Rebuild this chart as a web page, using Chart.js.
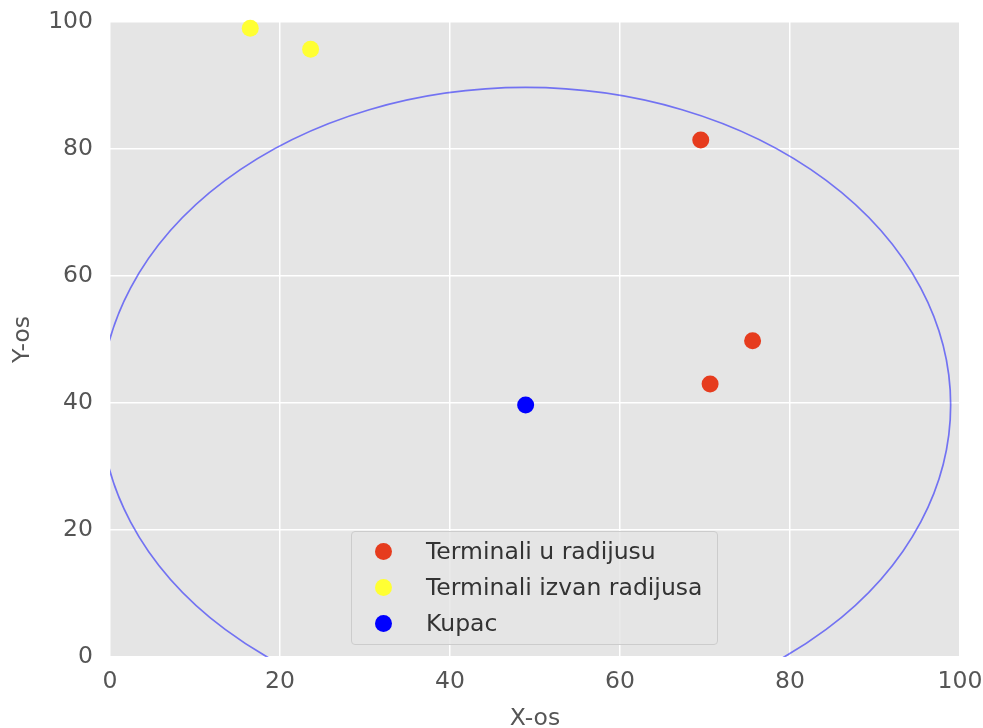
<!DOCTYPE html>
<html>
<head>
<meta charset="utf-8">
<script src="https://cdn.jsdelivr.net/npm/chart.js@4"></script>
<style>
  html, body { margin: 0; padding: 0; background: #fff; overflow: hidden; }
  #wrap { position: relative; width: 983px; height: 728px; }
  #legend {
    position: absolute; left: 351px; top: 531px; width: 365px; height: 112px;
    background: rgba(229,229,229,0.8); border: 1px solid #cccccc; border-radius: 4px;
    font-family: "DejaVu Sans", sans-serif; font-size: 23.5px; color: #333;
  }
  #legend .row { position: absolute; left: 0; height: 36px; line-height: 36px; white-space: nowrap; }
  #legend .dot { position: absolute; left: 23px; top: 10px; width: 17px; height: 17px; border-radius: 50%; }
  #legend .txt { position: absolute; left: 74px; }
</style>
</head>
<body>
<div id="wrap">
  <canvas id="chart" width="983" height="728"></canvas>
  <div id="legend"></div>
</div>
<script>
// podaci
const terminaliUX = [69.5, 75.6, 70.6];
const terminaliUY = [81.4, 49.8, 43.0];
const izvanX = [16.5, 23.6];
const izvanY = [99.0, 95.7];
const kupacX = [48.9];
const kupacY = [39.7];
const radijus = 50;
const tickVals = [0, 20, 40, 60, 80, 100];

function toPoints(xs, ys) {
    return xs.map(function(x, i) { return {x: x, y: ys[i]}; });
}

// pozadina grafa (ggplot stil)
const bgPlugin = {
    id: 'bg',
    beforeDraw: function(chart) {
        const a = chart.chartArea;
        const ctx = chart.ctx;
        ctx.save();
        ctx.fillStyle = '#e5e5e5';
        ctx.fillRect(a.left, a.top, a.right - a.left, a.bottom - a.top);
        ctx.restore();
    }
};

// krug oko kupca
const krugPlugin = {
    id: 'krug',
    beforeDatasetsDraw: function(chart) {
        const a = chart.chartArea;
        const xs = chart.scales.x, ys = chart.scales.y;
        const cx = xs.getPixelForValue(kupacX[0]);
        const cy = ys.getPixelForValue(kupacY[0]);
        const rx = Math.abs(xs.getPixelForValue(kupacX[0] + radijus) - cx);
        const ry = Math.abs(ys.getPixelForValue(kupacY[0] + radijus) - cy);
        const ctx = chart.ctx;
        ctx.save();
        ctx.beginPath();
        ctx.rect(a.left, a.top, a.right - a.left, a.bottom - a.top);
        ctx.clip();
        ctx.beginPath();
        ctx.ellipse(cx, cy, rx, ry, 0, 0, Math.PI * 2);
        ctx.strokeStyle = 'rgba(0,0,255,0.5)';
        ctx.lineWidth = 1.7;
        ctx.stroke();
        ctx.restore();
    }
};

const tickFont = { family: 'DejaVu Sans', size: 23.5 };

const chart = new Chart(document.getElementById('chart').getContext('2d'), {
    type: 'scatter',
    data: {
        datasets: [
            {
                label: 'Terminali u radijusu',
                data: toPoints(terminaliUX, terminaliUY),
                backgroundColor: '#e63c1e',
                pointRadius: 8.5,
                borderWidth: 0,
                clip: false
            },
            {
                label: 'Terminali izvan radijusa',
                data: toPoints(izvanX, izvanY),
                backgroundColor: '#ffff33',
                pointRadius: 8.5,
                borderWidth: 0,
                clip: false
            },
            {
                label: 'Kupac',
                data: toPoints(kupacX, kupacY),
                backgroundColor: '#0000ff',
                pointRadius: 8.5,
                borderWidth: 0,
                clip: false
            }
        ]
    },
    options: {
        responsive: false,
        animation: false,
        layout: { padding: { top: 22, right: 23, left: 0, bottom: 0 } },
        plugins: {
            legend: { display: false },
            tooltip: { enabled: false }
        },
        scales: {
            x: {
                min: 0, max: 100,
                afterBuildTicks: function(s) { s.ticks = tickVals.map(function(v) { return {value: v}; }); },
                afterFit: function(s) { s.height = 71; s.paddingLeft = 0; s.paddingRight = 0; },
                grid: { color: '#ffffff', lineWidth: 1.5, drawTicks: false },
                border: { display: false },
                ticks: { font: tickFont, color: '#555555', padding: 11, maxRotation: 0 },
                title: { display: true, text: 'X-os', font: tickFont, color: '#555555', padding: { top: 0, bottom: -5 } }
            },
            y: {
                min: 0, max: 100,
                afterBuildTicks: function(s) { s.ticks = tickVals.map(function(v) { return {value: v}; }); },
                afterFit: function(s) { s.width = 110; s.paddingTop = 0; s.paddingBottom = 0; },
                grid: { color: '#ffffff', lineWidth: 1.5, drawTicks: false },
                border: { display: false },
                ticks: { font: tickFont, color: '#555555', padding: 17 },
                title: { display: true, text: 'Y-os', font: tickFont, color: '#555555', padding: { top: 9, bottom: 0 } }
            }
        }
    },
    plugins: [bgPlugin, krugPlugin]
});

// legenda unutar grafa
const leg = document.getElementById('legend');
chart.data.datasets.forEach(function(ds, i) {
    const row = document.createElement('div');
    row.className = 'row';
    row.style.top = (1 + i * 36) + 'px';
    row.innerHTML = '<span class="dot" style="background:' + ds.backgroundColor + '"></span>' +
                    '<span class="txt">' + ds.label + '</span>';
    leg.appendChild(row);
});
</script>
</body>
</html>
